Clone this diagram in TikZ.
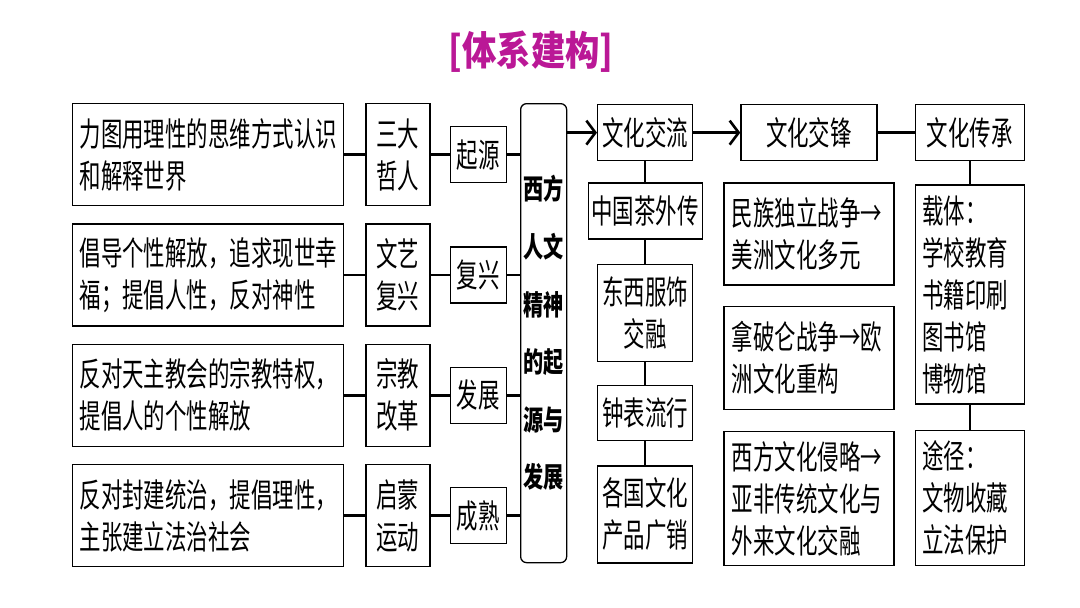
\documentclass[tikz,border=0pt]{standalone}
\usepackage{fontspec}
\setmainfont{Noto Sans CJK SC}[FakeStretch=0.65]
\newfontfamily\hubfont{Noto Sans CJK SC}[FakeStretch=0.72]
\newfontfamily\ttlfont{Noto Sans CJK SC}[FakeStretch=0.86]
\usetikzlibrary{positioning,arrows.meta}
\definecolor{ttlpink}{RGB}{186,24,150}
\tikzset{
  card/.style={rectangle, draw=black, line width=1.3pt, fill=white, text=black,
               inner xsep=7pt, inner ysep=0pt, font=\fontsize{33}{42}\selectfont},
  txtl/.style={card, align=left},
  txtc/.style={card, inner xsep=2pt, align=center},
  descbox/.style={txtl, minimum height=102pt, text width=257pt},
  eventbox/.style={txtc, minimum width=64pt, minimum height=102pt},
  stagebox/.style={txtc, minimum width=56pt, minimum height=56pt},
  hubbox/.style={rectangle, rounded corners=6pt, draw=black, line width=1.3pt, align=center,
                 inner sep=0pt, font=\hubfont\bfseries\fontsize{28}{57.6}\selectfont},
  link/.style={line width=2.6pt},
  vlink/.style={line width=1.8pt},
  flowarr/.style={-{Straight Barb[length=9pt, width=24pt]}, line width=2.6pt},
}

\begin{document}
\begin{tikzpicture}[x=1pt, y=-1pt]
\useasboundingbox (0,0) rectangle (1080,608);
\node[font=\ttlfont\bfseries\fontsize{40}{42}\selectfont, text=ttlpink] (ttl) at (531,52) {[体系建构]};

% left part: four stages
\node[descbox, anchor=north west] (d1) at (72,103) {力图用理性的思维方式认识\\和解释世界};
\node[descbox, below=17pt of d1] (d2) {倡导个性解放，追求现世幸\\福；提倡人性，反对神性};
\node[descbox, below=17pt of d2] (d3) {反对天主教会的宗教特权，\\提倡人的个性解放};
\node[descbox, below=17pt of d3] (d4) {反对封建统治，提倡理性，\\主张建立法治社会};
\node[eventbox, right=21pt of d1] (m1) {三大\\哲人};
\node[eventbox, right=21pt of d2] (m2) {文艺\\复兴};
\node[eventbox, right=21pt of d3] (m3) {宗教\\改革};
\node[eventbox, right=21pt of d4] (m4) {启蒙\\运动};
\node[stagebox, right=19pt of m1] (s1) {起源};
\node[stagebox, right=19pt of m2] (s2) {复兴};
\node[stagebox, right=19pt of m3] (s3) {发展};
\node[stagebox, right=19pt of m4] (s4) {成熟};
\node[hubbox, anchor=north west, minimum width=46pt, minimum height=459pt] (hub) at (520,103)
  {西方\\人文\\精神\\的起\\源与\\发展};

% right part
\node[txtc, anchor=north west, minimum width=95pt, minimum height=56pt] (liu) at (597,104) {文化交流};
\node[txtc, right=47pt of liu, minimum width=136pt, minimum height=56pt] (feng) {文化交锋};
\node[txtc, right=37pt of feng, minimum width=109pt, minimum height=56pt] (cheng) {文化传承};
\node[txtc, below=21pt of liu, minimum width=114pt, minimum height=56pt] (cha) {中国茶外传};
\node[txtc, below=24pt of cha, minimum width=95pt, minimum height=97pt] (fushi) {东西服饰\\交融};
\node[txtc, below=23pt of fushi, minimum width=95pt, minimum height=55pt] (zhong) {钟表流行};
\node[txtc, below=24pt of zhong, minimum width=95pt, minimum height=97pt] (ge) {各国文化\\产品广销};
\node[txtl, below=21pt of feng, inner xsep=8pt, text width=154pt, minimum height=102pt] (minzu)
  {民族独立战争→\\美洲文化多元};
\node[txtl, below=20pt of minzu, inner xsep=8pt, text width=154pt, minimum height=103pt] (napo)
  {拿破仑战争→欧\\洲文化重构};
\node[txtl, below=21pt of napo, inner xsep=8pt, text width=154pt, minimum height=134pt] (qinlue)
  {西方文化侵略→\\亚非传统文化与\\外来文化交融};
\node[txtl, below=23pt of cheng, text width=95pt, minimum height=219pt] (zaiti)
  {载体：\\学校教育\\书籍印刷\\图书馆\\博物馆};
\node[txtl, below=25pt of zaiti, text width=95pt, minimum height=135pt] (tujing)
  {途径：\\文物收藏\\立法保护};

\foreach \r in {1,2,3,4} {
  \draw[link] (d\r) -- (m\r);
  \draw[link] (m\r) -- (s\r);
  \draw[link] (s\r.east) -- (s\r.east -| hub.west);
}
\draw[flowarr] (liu.west -| hub.east) -- (liu);
\draw[flowarr] (liu) -- (feng);
\draw[link] (feng) -- (cheng);
\foreach \a/\b in {liu/cha,cha/fushi,fushi/zhong,zhong/ge,cheng/zaiti,zaiti/tujing}
  \draw[vlink] (\a) -- (\b);
\end{tikzpicture}
\end{document}
